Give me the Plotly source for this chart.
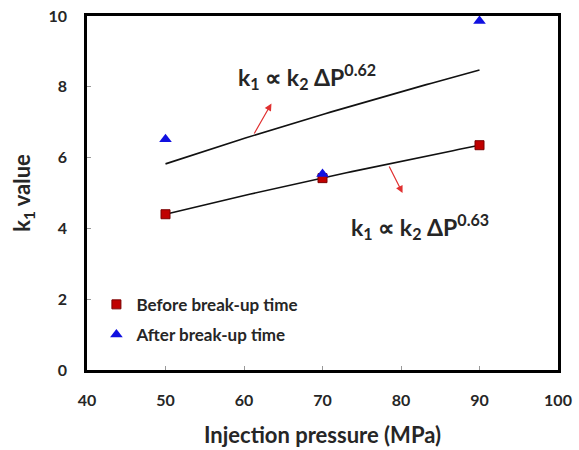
import numpy as np
import plotly.graph_objects as go

pressure = [50, 70, 90]
k1_before = [4.40, 5.42, 6.35]
k1_after = [6.52, 5.54, 9.86]
x_ticks = [40, 50, 60, 70, 80, 90, 100]
y_ticks = [0, 2, 4, 6, 8, 10]

FONT = "Lato"
DARK = "#262626"

def power_fit(x, y):
    b, a = np.polyfit(np.log(x), np.log(y), 1)
    xs = np.linspace(min(x), max(x), 60)
    return xs, np.exp(a) * xs ** b

fig = go.Figure()
for ys in (k1_before, k1_after):
    fx, fy = power_fit(pressure, ys)
    fig.add_trace(go.Scatter(x=fx, y=fy, mode="lines",
                             line=dict(color="#111111", width=1.6),
                             showlegend=False, hoverinfo="skip"))

fig.add_trace(go.Scatter(x=pressure, y=k1_before, mode="markers",
                         name="Before break-up time", legendgroup="a",
                         marker=dict(symbol="square", size=9, color="#C00000",
                                     line=dict(color="#7a0000", width=1))))
fig.add_trace(go.Scatter(x=pressure, y=k1_after, mode="markers",
                         name="After break-up time", legendgroup="b",
                         marker=dict(symbol="triangle-up", size=11, color="#1010E0",
                                     line=dict(width=0))))

ann_font = dict(family=FONT, size=23, color=DARK, weight="bold")
fig.add_annotation(x=68.0, y=8.28, text="k<sub>1</sub> \u221d k<sub>2</sub> \u0394P<sup>0.62</sup>",
                   showarrow=False, font=ann_font)
fig.add_annotation(x=82.4, y=4.04, text="k<sub>1</sub> \u221d k<sub>2</sub> \u0394P<sup>0.63</sup>",
                   showarrow=False, font=ann_font)

# red arrows
fig.add_annotation(x=63.5, y=7.53, ax=61.2, ay=6.64, axref="x", ayref="y",
                   xref="x", yref="y", text="", showarrow=True,
                   arrowhead=2, arrowsize=1.2, arrowwidth=1.2, arrowcolor="#E03030")
fig.add_annotation(x=80.2, y=5.0, ax=78.4, ay=5.79, axref="x", ayref="y",
                   xref="x", yref="y", text="", showarrow=True,
                   arrowhead=2, arrowsize=1.2, arrowwidth=1.2, arrowcolor="#E03030")

axis_common = dict(showgrid=False, zeroline=False, showline=True, linecolor="black",
                   linewidth=2.5, mirror=True, ticks="inside", ticklen=4,
                   tickcolor="#999999", tickwidth=1, automargin=False,
                   tickfont=dict(family=FONT, size=16, color=DARK, weight="bold"))

fig.update_xaxes(range=[40, 100], tickvals=x_ticks, ticklabelstandoff=14,
                 title=dict(text="Injection pressure (MPa)", standoff=20,
                            font=dict(family=FONT, size=22, color=DARK, weight="bold")),
                 **axis_common)
fig.update_yaxes(range=[0, 10], tickvals=y_ticks, ticklabelstandoff=14,
                 title=dict(text="k<sub>1</sub> value", standoff=12,
                            font=dict(family=FONT, size=22, color=DARK, weight="bold")),
                 **axis_common)

fig.update_layout(
    width=579, height=450,
    margin=dict(l=87, r=21, t=16, b=80),
    plot_bgcolor="white", paper_bgcolor="white",
    legend=dict(x=0.02, y=0.235, xanchor="left", yanchor="top",
                bgcolor="rgba(0,0,0,0)", itemwidth=30, tracegroupgap=5,
                font=dict(family=FONT, size=17, color=DARK, weight="bold")),
)

fig.write_html("out.html")
